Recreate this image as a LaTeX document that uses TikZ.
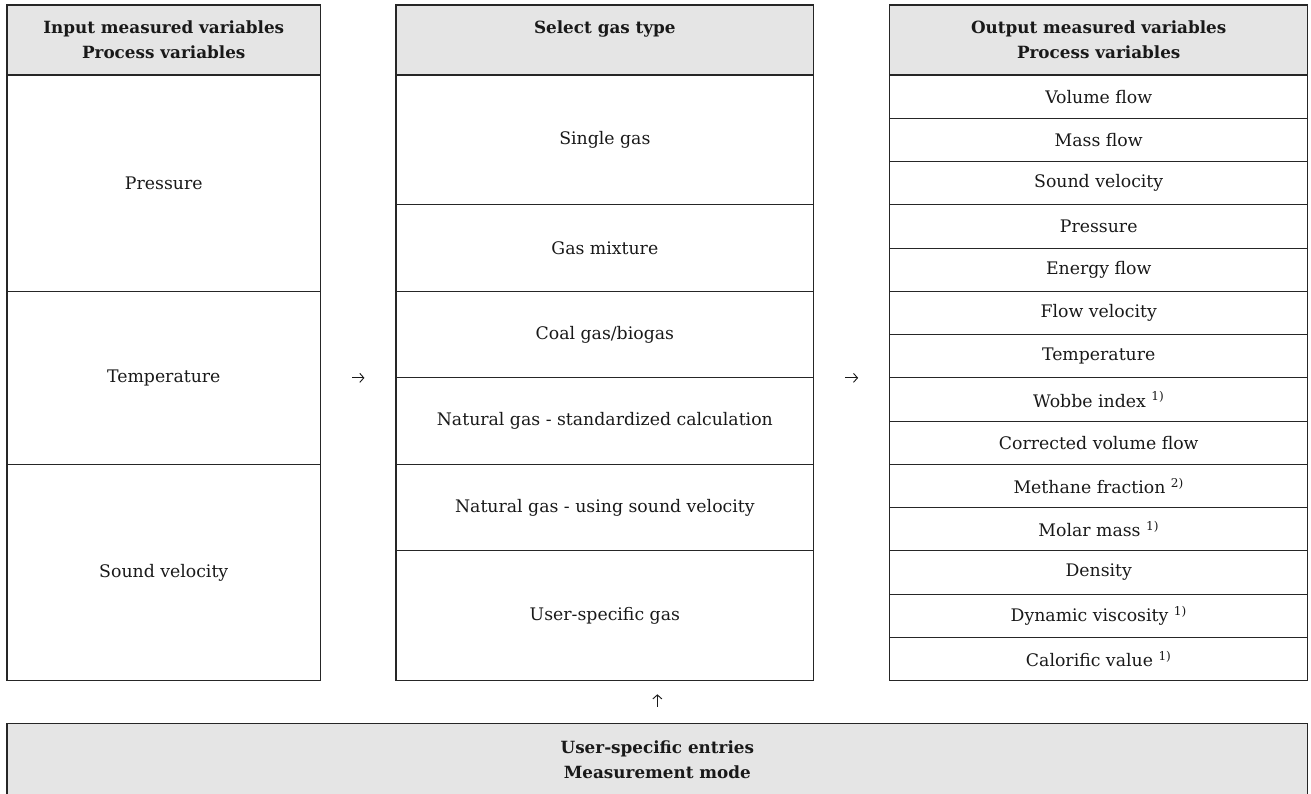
\documentclass[tikz,border=0pt]{standalone}
\usepackage{fontspec}
\setmainfont{DejaVu Serif}
\usetikzlibrary{arrows.meta}
\begin{document}
\begin{tikzpicture}[x=1pt,y=-1pt,
  every node/.style={font=\fontsize{17.3}{24}\selectfont, align=center, inner sep=0pt, text=black!90},
  cell/.style={draw=black!85, line width=1.1pt, rectangle},
  frame/.style={draw=black!85, line width=1.2pt, rectangle},
  head/.style={cell, fill=black!10, font=\fontsize{16.8}{25}\selectfont\bfseries},
  arr/.style={-{Straight Barb[length=4pt,width=9pt]}, line width=0.9pt, black!90}
]
\useasboundingbox (0,0) rectangle (1311,793);
\def\h{43.264}
% headers
\node[head, minimum width=313.5, minimum height=70] (lh) at (163.75,40) {Input measured variables\\Process variables};
\node[head, minimum width=417.7, minimum height=70] (mh) at (604.85,40) {Select gas type\\\phantom{Process variables}};
\node[head, minimum width=418, minimum height=70] (rh) at (1098.7,40) {Output measured variables\\Process variables};
% column bodies
\node[frame, minimum width=313.5, minimum height=605.7] (lb) at (163.75,377.85) {};
\node[frame, minimum width=417.7, minimum height=605.7] (mb) at (604.85,377.85) {};
\node[frame, minimum width=418, minimum height=605.7] (rb) at (1098.7,377.85) {};
% left cells
\node[cell, minimum width=313.5, minimum height=5*\h] (l1) at (163.75,{75+2.5*\h}) {Pressure};
\node[cell, minimum width=313.5, minimum height=4*\h] (l2) at (163.75,{75+7*\h}) {Temperature};
\node[cell, minimum width=313.5, minimum height=5*\h] (l3) at (163.75,{75+11.5*\h}) {Sound velocity};
% middle cells
\node[cell, minimum width=417.7, minimum height=3*\h] (m1) at (604.85,{75+1.5*\h}) {Single gas};
\node[cell, minimum width=417.7, minimum height=2*\h] (m2) at (604.85,{75+4*\h}) {Gas mixture};
\node[cell, minimum width=417.7, minimum height=2*\h] (m3) at (604.85,{75+6*\h}) {Coal gas/biogas};
\node[cell, minimum width=417.7, minimum height=2*\h] (m4) at (604.85,{75+8*\h}) {Natural gas - standardized calculation};
\node[cell, minimum width=417.7, minimum height=2*\h] (m5) at (604.85,{75+10*\h}) {Natural gas - using sound velocity};
\node[cell, minimum width=417.7, minimum height=3*\h] (m6) at (604.85,{75+12.5*\h}) {User-specific gas};
% right cells
\foreach [count=\i from 0] \t in {Volume flow, Mass flow, Sound velocity, Pressure, Energy flow, Flow velocity, Temperature, {Wobbe index~\textsuperscript{1)}}, Corrected volume flow, {Methane fraction~\textsuperscript{2)}}, {Molar mass~\textsuperscript{1)}}, Density, {Dynamic viscosity~\textsuperscript{1)}}, {Calorific value~\textsuperscript{1)}}}
  \node[cell, minimum width=418, minimum height=\h] (r\i) at (1098.7,{75+(\i+0.5)*\h}) {\t};
% bottom box
\node[head, minimum width=1300.7, minimum height=72] (ub) at (657.35,759.3) {User-specific entries\\Measurement mode};
% arrows
\draw[arr, shorten <=31pt, shorten >=31pt] (lb.east) -- (mb.west);
\draw[arr, shorten <=31pt, shorten >=31pt] (mb.east) -- (rb.west);
\draw[arr, shorten <=16pt, shorten >=13pt] (ub.north) -- (ub.north |- mb.south);
\end{tikzpicture}
\end{document}
